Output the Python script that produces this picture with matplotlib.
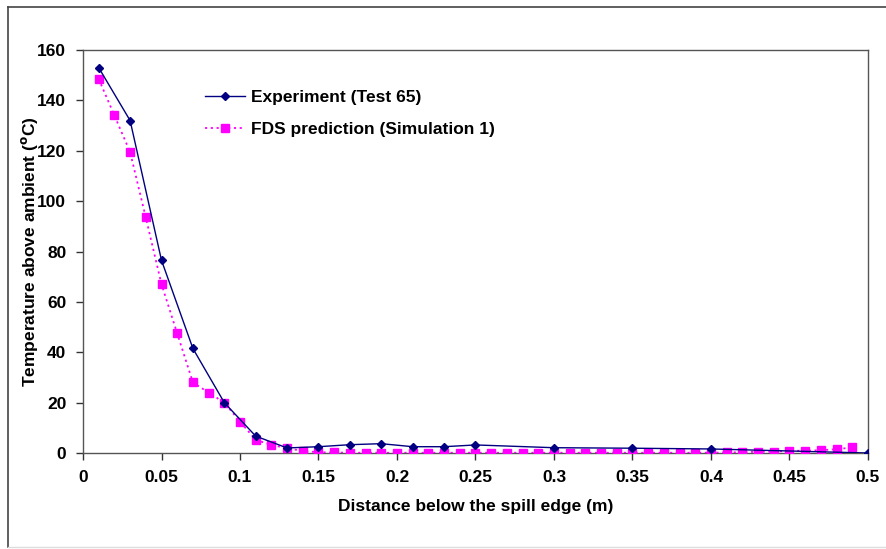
import matplotlib
matplotlib.use("Agg")
import matplotlib.pyplot as plt
from matplotlib.lines import Line2D

plt.rcParams['font.family'] = ['Liberation Sans', 'DejaVu Sans']

exp_x = [0.01, 0.03, 0.05, 0.07, 0.09, 0.11, 0.13, 0.15, 0.17, 0.19, 0.21, 0.23, 0.25, 0.30, 0.35, 0.40, 0.50]
exp_y = [153, 132, 76.5, 41.5, 20, 6.7, 2.0, 2.5, 3.3, 3.7, 2.5, 2.5, 3.2, 2.1, 1.9, 1.6, 0.0]

fds_x = [round(0.01 * i, 2) for i in range(1, 50)]
fds_y = [148.5, 134, 119.5, 93.5, 67, 47.5, 28, 24, 20, 12.5, 5.2, 3.2, 1.9, 0.8,
         0.3, 0.2, 0.1, 0.1, 0.1, 0.1, 0.1, 0.1, 0.1, 0.1, 0.1, 0.1, 0.1, 0.1, 0.1, 0.1,
         0.1, 0.1, 0.1, 0.1, 0.1, 0.1, 0.1, 0.1, 0.1, 0.1, 0.2, 0.3, 0.5, 0.5, 0.9, 0.9, 1.1, 1.5, 2.2]

xticks = [0, 0.05, 0.1, 0.15, 0.2, 0.25, 0.3, 0.35, 0.4, 0.45, 0.5]
xticklabels = ['0', '0.05', '0.1', '0.15', '0.2', '0.25', '0.3', '0.35', '0.4', '0.45', '0.5']
yticks = [0, 20, 40, 60, 80, 100, 120, 140, 160]

fig = plt.figure(figsize=(8.87, 5.49), dpi=100)
ax = fig.add_axes([83/887, 1 - 453/549, (868 - 83)/887, (453 - 50)/549])

# outer border
fig.add_artist(Line2D([8/887, 8/887], [1 - 547/549, 1 - 7/549], transform=fig.transFigure, color='#444444', lw=1.2))
fig.add_artist(Line2D([8/887, 1.0], [1 - 7/549, 1 - 7/549], transform=fig.transFigure, color='#444444', lw=1.2))
fig.add_artist(Line2D([8/887, 1.0], [1 - 547/549, 1 - 547/549], transform=fig.transFigure, color='#dddddd', lw=1.0))

ax.plot(fds_x, fds_y, color='#ff00ff', ls=(0, (1.2, 2)), lw=1.3, marker='s', ms=6,
        label='FDS prediction (Simulation 1)', zorder=3)
ax.plot(exp_x, exp_y, color='#000080', ls='-', lw=1.0, marker='D', ms=4.5,
        label='Experiment (Test 65)', zorder=4)

ax.set_xlim(0, 0.5)
ax.set_ylim(0, 160)
ax.set_xticks(xticks)
ax.set_xticklabels(xticklabels)
ax.set_yticks(yticks)
for lab in ax.get_xticklabels() + ax.get_yticklabels():
    lab.set_fontweight('bold')
    lab.set_fontsize(12.5)
ax.tick_params(direction='out', length=5, width=1, color='#333333', pad=7)

for s in ax.spines.values():
    s.set_color('#555555')
    s.set_linewidth(1.0)

ax.set_xlabel('Distance below the spill edge (m)', fontsize=12.5, fontweight='bold', labelpad=10)
ax.set_ylabel('Temperature above ambient ($^{\\mathbf{o}}$C)', fontsize=12.5, fontweight='bold')
ax.yaxis.set_label_coords(-0.055, 0.5)

handles, labels = ax.get_legend_handles_labels()
leg = ax.legend(handles[::-1], labels[::-1], loc='upper left', bbox_to_anchor=(0.136, 0.94),
                frameon=False, handlelength=2.3, labelspacing=0.95, handletextpad=0.3,
                prop={'weight': 'bold', 'size': 12.5})

fig.savefig('out.png', dpi=100)
